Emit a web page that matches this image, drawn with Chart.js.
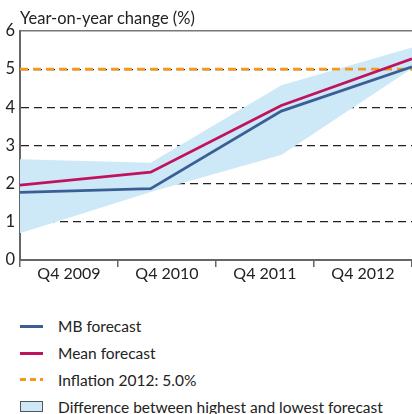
<!DOCTYPE html>
<html>
<head>
<meta charset="utf-8">
<script src="https://cdn.jsdelivr.net/npm/chart.js@4"></script>
<style>
  body { margin: 0; background: #fff; font-family: Lato, sans-serif; color: #222; }
  #wrap { position: relative; width: 412px; height: 414px; }
  #title { position: absolute; left: 20px; top: 8px; font-size: 16.5px; }
  #box { position: absolute; left: 0; top: 0; width: 412px; height: 292px; }
  #legend { position: absolute; left: 20px; top: 313px; font-size: 15.5px; }
  .row { height: 26.8px; display: flex; align-items: center; }
  .swatch { width: 23px; margin-right: 15px; }
</style>
</head>
<body>
<div id="wrap">
  <div id="box"><canvas id="chart"></canvas></div>
  <div id="title">Year-on-year change (%)</div>
  <div id="legend"></div>
</div>
<script>
const categories = ['Q4 2009', 'Q4 2010', 'Q4 2011', 'Q4 2012'];
const mbForecast = [1.77, 1.87, 3.90, 5.06];
const meanForecast = [1.96, 2.30, 4.05, 5.27];
const highestForecast = [2.64, 2.55, 4.58, 5.57];
const lowestForecast = [0.70, 1.78, 2.75, 5.02];
const inflation2012 = [5.0, 5.0, 5.0, 5.0];
const yTicks = [0, 1, 2, 3, 4, 5, 6];

const blue = '#3b5f95';
const crimson = '#c0135d';
const orange = '#f39a1e';
const band = '#cde9f8';

const pts = (arr) => arr.map((v, i) => ({ x: i, y: v }));

const ctx = document.getElementById('chart').getContext('2d');
new Chart(ctx, {
    type: 'line',
    data: {
        datasets: [
            { label: 'MB forecast', data: pts(mbForecast), xAxisID: 'xData', borderColor: blue, borderWidth: 2.8, pointRadius: 0, fill: false, order: 1 },
            { label: 'Mean forecast', data: pts(meanForecast), xAxisID: 'xData', borderColor: crimson, borderWidth: 2.8, pointRadius: 0, fill: false, order: 0 },
            { label: 'Inflation 2012: 5.0%', data: pts(inflation2012), xAxisID: 'xData', borderColor: orange, borderWidth: 2.8, borderDash: [8, 5], pointRadius: 0, fill: false, order: 2 },
            { label: 'Difference between highest and lowest forecast', data: pts(highestForecast), xAxisID: 'xData', borderWidth: 0, pointRadius: 0, backgroundColor: band, fill: '+1', order: 3 },
            { label: 'lowest', data: pts(lowestForecast), xAxisID: 'xData', borderWidth: 0, pointRadius: 0, fill: false, order: 4 },
        ],
    },
    options: {
        responsive: true,
        maintainAspectRatio: false,
        animation: false,
        layout: { padding: { top: 31, right: 0, left: 0, bottom: 0 } },
        plugins: { legend: { display: false }, tooltip: { enabled: false } },
        scales: {
            xData: {
                type: 'linear', position: 'top', min: 0, max: 3,
                ticks: { display: false },
                grid: { drawOnChartArea: false, drawTicks: false },
                border: { color: '#777', width: 1.5 },
                afterFit: (s) => { s.height = 0; },
            },
            x: {
                type: 'category', labels: categories, position: 'bottom', offset: true,
                grid: { offset: true, drawOnChartArea: false, drawTicks: true, tickLength: 7, color: '#666', lineWidth: 1.5 },
                border: { color: '#666', width: 2 },
                ticks: { color: '#222', font: { family: 'Lato', size: 16 }, padding: -3, maxRotation: 0 },
                afterFit: (s) => { s.height = 32; },
            },
            y: {
                min: 0, max: 6,
                afterBuildTicks: (s) => { s.ticks = yTicks.map((v) => ({ value: v })); },
                ticks: { color: '#222', font: { family: 'Lato', size: 16.5 }, padding: 5 },
                grid: {
                    drawTicks: false,
                    color: (c) => (c.tick && (c.tick.value === 0 || c.tick.value === 6)) ? 'rgba(0,0,0,0)' : '#222',
                    lineWidth: 1.3,
                },
                border: { color: '#666', width: 2, dash: [8, 5] },
                afterFit: (s) => { s.width = 20; },
            },
        },
    },
});

// legend rows built from the datasets above
const legendItems = [
    { text: 'MB forecast', kind: 'line', color: blue },
    { text: 'Mean forecast', kind: 'line', color: crimson },
    { text: 'Inflation 2012: 5.0%', kind: 'dash', color: orange },
    { text: 'Difference between highest and lowest forecast', kind: 'box', color: band },
];
const legend = document.getElementById('legend');
legendItems.forEach((item) => {
    const row = document.createElement('div');
    row.className = 'row';
    const sw = document.createElement('div');
    sw.className = 'swatch';
    if (item.kind === 'line') {
        sw.style.borderTop = '3px solid ' + item.color;
    } else if (item.kind === 'dash') {
        sw.style.height = '3px';
        sw.style.background = 'repeating-linear-gradient(90deg,' + item.color + ' 0 6px, transparent 6px 10px)';
    } else {
        sw.style.height = '11px';
        sw.style.boxSizing = 'border-box';
        sw.style.border = '1.5px solid #555';
        sw.style.background = item.color;
    }
    const label = document.createElement('span');
    label.textContent = item.text;
    row.appendChild(sw);
    row.appendChild(label);
    legend.appendChild(row);
});
</script>
</body>
</html>
